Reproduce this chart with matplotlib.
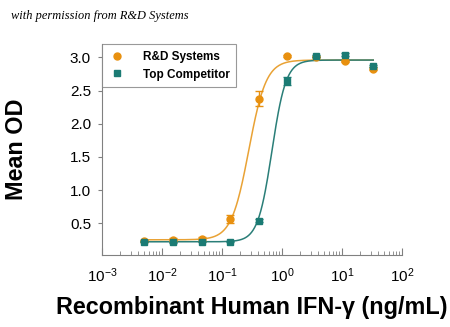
import numpy as np
import matplotlib
matplotlib.use("Agg")
import matplotlib.pyplot as plt
from matplotlib.ticker import LogLocator, NullFormatter

plt.rcParams["font.family"] = ["Liberation Sans", "DejaVu Sans"]
plt.rcParams["mathtext.fontset"] = "custom"
plt.rcParams["mathtext.rm"] = "Liberation Sans"
plt.rcParams["mathtext.it"] = "Liberation Sans:italic"
plt.rcParams["mathtext.bf"] = "Liberation Sans:bold"

# 3-fold dilution series (ng/mL)
conc = [0.00508, 0.0152, 0.0457, 0.137, 0.412, 1.23, 3.70, 11.1, 33.3]

rnd_od = [0.23, 0.25, 0.26, 0.57, 2.38, 3.02, 3.01, 2.94, 2.83]
rnd_err = [0.01, 0.02, 0.03, 0.06, 0.11, 0.01, 0.01, 0.01, 0.02]
comp_od = [0.22, 0.21, 0.22, 0.22, 0.54, 2.65, 3.02, 3.04, 2.87]
comp_err = [0.01, 0.01, 0.01, 0.01, 0.02, 0.06, 0.02, 0.02, 0.02]

# 4PL fit parameters: bottom, top, EC50, hill
rnd_fit = [0.25, 2.96, 0.28, 3.0]
comp_fit = [0.22, 2.96, 0.68, 3.7]

orange = "#E8900F"
teal = "#1B7B74"


def four_pl(x, p):
    return p[0] + (p[1] - p[0]) / (1 + (p[2] / x) ** p[3])


fig = plt.figure(figsize=(4.5, 3.27), dpi=100)
ax = fig.add_axes([0.227, 0.22, 0.666, 0.645])

xs = np.logspace(np.log10(conc[0]), np.log10(conc[-1]), 300)
ax.plot(xs, four_pl(xs, rnd_fit), color="#E9A235", lw=1.1, zorder=2)
ax.plot(xs, four_pl(xs, comp_fit), color="#2A7E78", lw=1.1, zorder=2)

ax.errorbar(conc, rnd_od, yerr=rnd_err, fmt="none", ecolor=orange,
            capsize=3, elinewidth=1, zorder=3)
ax.errorbar(conc, comp_od, yerr=comp_err, fmt="none", ecolor=teal,
            capsize=3, elinewidth=1, zorder=4)
ax.plot(conc, rnd_od, "o", color=orange, ms=5, label="R&D Systems", zorder=3)
ax.plot(conc, comp_od, "s", color=teal, ms=4.5, label="Top Competitor", zorder=4)

ax.set_xscale("log")
ax.set_xlim(1e-3, 1e2)
ax.set_ylim(0.02, 3.2)
ax.set_yticks([0.5, 1.0, 1.5, 2.0, 2.5, 3.0])
ax.set_yticklabels(["0.5", "1.0", "1.5", "2.0", "2.5", "3.0"])
ax.xaxis.set_major_locator(LogLocator(base=10, numticks=10))
ax.xaxis.set_minor_locator(LogLocator(base=10, subs=np.arange(2, 10), numticks=10))
ax.xaxis.set_minor_formatter(NullFormatter())

for s in ["top", "right"]:
    ax.spines[s].set_visible(False)
for s in ["left", "bottom"]:
    ax.spines[s].set_color("#808080")
    ax.spines[s].set_linewidth(0.8)

ax.tick_params(axis="x", which="both", direction="in", color="#808080",
               labelsize=11, pad=8)
ax.tick_params(axis="x", which="major", length=5)
ax.tick_params(axis="x", which="minor", length=3)
ax.tick_params(axis="y", direction="out", length=3, color="#808080",
               labelsize=11, pad=5)

ax.set_xlabel("Recombinant Human IFN-γ (ng/mL)", fontsize=16.8,
              fontweight="bold", labelpad=8)
ax.set_ylabel("Mean OD", fontsize=16.8, fontweight="bold", labelpad=30)

leg = ax.legend(loc="upper left", bbox_to_anchor=(0.0, 1.0), fontsize=8.5,
                frameon=True, fancybox=False, borderaxespad=0,
                handletextpad=1.4, borderpad=0.55, handlelength=1.5)
leg.get_frame().set_edgecolor("#808080")
leg.get_frame().set_linewidth(0.8)
for t in leg.get_texts():
    t.set_fontweight("bold")

fig.text(0.025, 0.943, "with permission from R&D Systems", fontsize=8.9,
         style="italic", family="Liberation Serif")

fig.savefig("out.png", dpi=100)
